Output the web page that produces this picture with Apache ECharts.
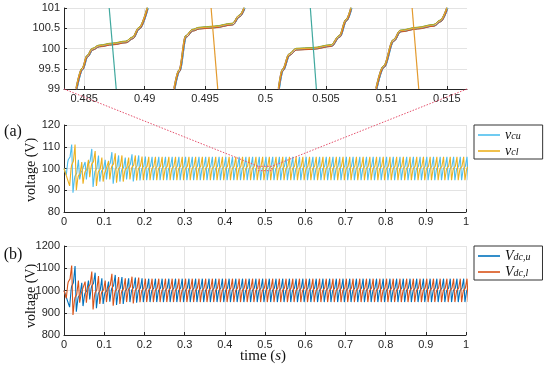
<!DOCTYPE html>
<html><head><meta charset="utf-8">
<script src="https://cdn.jsdelivr.net/npm/echarts@6/dist/echarts.min.js"></script>
<style>html,body{margin:0;padding:0;background:#fff}#c{width:550px;height:366px}</style>
</head><body><div id="c"></div>
<script>
// ---------- data ----------
// inset (zoom of 0.4833..0.5167 s, 99..101 V)
const insetXTicks = [0.485, 0.49, 0.495, 0.5, 0.505, 0.51, 0.515];
const insetXRange = [0.48333, 0.51667];
const insetYRange = [99, 101];
const insetRise1 = [[0.48436,99],[0.48486,99.5],[0.48527,99.81],[0.48569,99.98],[0.48624,100.06],[0.48735,100.11],[0.48846,100.16],[0.48901,100.26],[0.48956,100.5],[0.49025,101]];
const insetRise2 = [[0.49246,99],[0.49287,99.45],[0.49343,100.3],[0.49398,100.45],[0.49453,100.5],[0.49578,100.53],[0.49727,100.6],[0.49785,100.8],[0.49826,101]];
const insetRise3 = [[0.5011,99],[0.50143,99.47],[0.50199,99.85],[0.50254,99.98],[0.50392,100],[0.50544,100.07],[0.50613,100.3],[0.50669,100.7],[0.5071,101]];
const insetRise4 = [[0.50917,99],[0.50978,99.55],[0.51061,100.2],[0.51117,100.43],[0.51255,100.5],[0.51393,100.57],[0.51448,100.68],[0.51504,101]];
const insetFallTeal = [[[0.48707,101],[0.48765,99]], [[0.50371,101],[0.50421,99]]];
const insetFallOrange = [[[0.4955,101],[0.49605,99]], [[0.51213,101],[0.51268,99]]];

// one period of the arm capacitor ripple (phase from trough, fraction trough->peak)
const cyclePhase = [0, 0.21, 0.29, 0.38, 0.46, 0.56, 0.81];
const cycleLevel = [0, 0.405, 0.5, 0.53, 0.54, 0.594, 1];
const ripplePeriod = 1 / 60;
const cycleCount = 61;

// (a) capacitor voltages: per-cycle troughs / peaks, then steady state
const vcuStart = [0, 100], vcuPhase0 = 0.34;
const vcuLo = [97, 88.9, 95, 95, 91.5, 94, 95, 93, 94, 95, 94, 94.5];
const vcuHi = [111, 104, 103, 109, 106, 104, 107.5, 106, 105, 106.5, 106, 105.5];
const vcuSteady = [94.6, 105.4];
const vclStart = [0, 100], vclPhase0 = 0.84;
const vclLo = [92, 90, 93, 96, 92, 94, 95, 93.5, 94, 95, 94.5, 94.6];
const vclHi = [111, 103, 104, 108, 105, 103.5, 107, 106, 105, 106, 105.5, 105.4];
const vclSteady = [94.6, 105.4];

// (b) arm dc voltages
const vdcuStart = [0, 1000], vdcuPhase0 = 0.84;
const vdcuLo = [925, 905, 930, 960, 920, 940, 950, 935, 940, 948, 945, 948];
const vdcuHi = [1110, 1035, 1045, 1080, 1055, 1040, 1070, 1060, 1055, 1058, 1055, 1053];
const vdcuSteady = [948, 1053];
const vdclStart = [0, 1000], vdclPhase0 = 0.34;
const vdclLo = [965, 890, 945, 945, 915, 940, 948, 932, 940, 948, 942, 947];
const vdclHi = [1112, 1045, 1040, 1085, 1065, 1045, 1075, 1060, 1055, 1062, 1058, 1053];
const vdclSteady = [948, 1053];

// ---------- styling ----------
const C = {vcu:'#4DBEEE', vcl:'#EDB120', Vdcu:'#0072BD', Vdcl:'#D95319'};
const bandColors = ['#7E2F8E','#0072BD','#77AC30','#4DBEEE','#D95319','#EDB120'];
const bandDt = [-0.00005, 0.00004, -0.00002, 0.00005, 0.00001, -0.00004];
const bandDv = [0.015, -0.015, 0.025, -0.005, -0.02, 0.01];
const axisCol = '#262626', gridCol = '#e3e3e3';
const sansFont = 'Liberation Sans, Arial, sans-serif';
const serifFont = 'Liberation Serif, DejaVu Serif, serif';

function buildWave(start, phase0, lo, hi, steady) {
  const pts = [start.slice()];
  for (let j = 0; j < cycleCount; j++) {
    const l = j < lo.length ? lo[j] : steady[0];
    const h = j < hi.length ? hi[j] : steady[1];
    for (let i = 0; i < cyclePhase.length; i++) {
      pts.push([(j + phase0 + cyclePhase[i]) * ripplePeriod, l + cycleLevel[i] * (h - l)]);
    }
  }
  return pts;
}

function axisBase(extraLabel) {
  return {
    type: 'value',
    axisLine: {show: true, onZero: false, lineStyle: {color: axisCol, width: 1}},
    axisTick: {show: true, inside: true, length: 3, lineStyle: {color: axisCol}},
    axisLabel: Object.assign({color: axisCol, fontSize: 11, fontFamily: sansFont, margin: 4}, extraLabel || {}),
    splitLine: {show: true, lineStyle: {color: gridCol, width: 1}}
  };
}

const series = [];
[insetRise1, insetRise2, insetRise3, insetRise4].forEach(curve => {
  bandColors.forEach((col, i) => {
    series.push({type: 'line', xAxisIndex: 0, yAxisIndex: 0, showSymbol: false, silent: true,
      smooth: 0.35, smoothMonotone: 'x',
      data: curve.map(p => [p[0] + bandDt[i], p[1] + bandDv[i]]),
      lineStyle: {color: col, width: 1}});
  });
});
insetFallTeal.forEach(seg => series.push({type: 'line', xAxisIndex: 0, yAxisIndex: 0, showSymbol: false, silent: true,
  data: seg, lineStyle: {color: '#3fa89e', width: 1.2}}));
insetFallOrange.forEach(seg => series.push({type: 'line', xAxisIndex: 0, yAxisIndex: 0, showSymbol: false, silent: true,
  data: seg, lineStyle: {color: '#e39a2d', width: 1.2}}));

function mainSeries(name, ax, data) {
  return {name, type: 'line', xAxisIndex: ax, yAxisIndex: ax, showSymbol: false, symbol: 'none',
    data, lineStyle: {color: C[name], width: 1.1}, itemStyle: {color: C[name]}};
}
series.push(mainSeries('vcu', 1, buildWave(vcuStart, vcuPhase0, vcuLo, vcuHi, vcuSteady)));
series.push(mainSeries('vcl', 1, buildWave(vclStart, vclPhase0, vclLo, vclHi, vclSteady)));
series.push(mainSeries('Vdcu', 2, buildWave(vdcuStart, vdcuPhase0, vdcuLo, vdcuHi, vdcuSteady)));
series.push(mainSeries('Vdcl', 2, buildWave(vdclStart, vdclPhase0, vdclLo, vdclHi, vdclSteady)));

const legendLabels = {
  vcu: '{m|v}{s|cu}', vcl: '{m|v}{s|cl}', Vdcu: '{m|V}{s|dc,u}', Vdcl: '{m|V}{s|dc,l}'
};
const legendRich = {
  m: {fontFamily: serifFont, fontStyle: 'italic', fontSize: 14, lineHeight: 12, verticalAlign: 'middle', color: '#111'},
  s: {fontFamily: serifFont, fontStyle: 'italic', fontSize: 10, lineHeight: 12, verticalAlign: 'bottom', color: '#111', padding: [5, 0, 0, 0]}
};
function legendCfg(names, top, pad) {
  return {data: names, left: 474, top, orient: 'vertical', itemGap: 0, itemWidth: 22, itemHeight: 1.6,
    icon: 'rect', padding: pad, backgroundColor: '#fff', borderColor: '#333', borderWidth: 1, borderRadius: 0,
    selectedMode: false, formatter: n => legendLabels[n], textStyle: {rich: legendRich, padding: [0, 0, 0, 0]}};
}

const chart = echarts.init(document.getElementById('c'), null, {renderer: 'canvas', width: 550, height: 366});
const xMain = (gi) => Object.assign(axisBase({formatter: v => String(+v.toFixed(1))}), {gridIndex: gi, min: 0, max: 1, interval: 0.1});
const insetX = axisBase({formatter: v => String(+v.toFixed(3)), customValues: insetXTicks});
insetX.axisTick.customValues = insetXTicks;
Object.assign(insetX, {gridIndex: 0, min: insetXRange[0], max: insetXRange[1]});

chart.setOption({
  animation: false,
  backgroundColor: '#fff',
  grid: [
    {left: 64, top: 8, width: 403, height: 81, outerBoundsMode: 'none'},
    {left: 64, top: 125, width: 402, height: 87, outerBoundsMode: 'none'},
    {left: 64, top: 246, width: 402, height: 89, outerBoundsMode: 'none'}
  ],
  xAxis: [insetX, xMain(1), xMain(2)],
  yAxis: [
    Object.assign(axisBase({formatter: v => String(v)}), {gridIndex: 0, min: insetYRange[0], max: insetYRange[1], interval: 0.5}),
    Object.assign(axisBase({formatter: v => String(v)}), {gridIndex: 1, min: 80, max: 120, interval: 10}),
    Object.assign(axisBase({formatter: v => String(v)}), {gridIndex: 2, min: 800, max: 1200, interval: 100})
  ],
  legend: [legendCfg(['vcu', 'vcl'], 125, [1, 22, 1, 4]), legendCfg(['Vdcu', 'Vdcl'], 246, [1, 12, 1, 4])],
  series
});

// zoom annotation (dotted) + texts
const toPx = (ai, p) => chart.convertToPixel({xAxisIndex: ai, yAxisIndex: ai}, p);
const iBL = toPx(0, [insetXRange[0], insetYRange[0]]);
const iBR = toPx(0, [insetXRange[1], insetYRange[0]]);
const bTL = toPx(1, [insetXRange[0], insetYRange[1]]);
const bTR = toPx(1, [insetXRange[1], insetYRange[1]]);
const bBR = toPx(1, [insetXRange[1], insetYRange[0]]);
const dotted = {stroke: '#e5506c', lineWidth: 1, lineDash: [1.5, 1.5], fill: null};
chart.setOption({
  graphic: [
    {type: 'line', z: 100, shape: {x1: iBL[0], y1: iBL[1], x2: bTL[0], y2: bTL[1]}, style: dotted},
    {type: 'line', z: 100, shape: {x1: iBR[0], y1: iBR[1], x2: bTR[0], y2: bTR[1]}, style: dotted},
    {type: 'rect', z: 100, shape: {x: bTL[0], y: bTL[1], width: bBR[0] - bTL[0], height: bBR[1] - bTL[1]}, style: dotted},
    {type: 'text', z: 100, x: 13, y: 132, style: {text: '(a)', fontFamily: serifFont, fontSize: 16, fill: '#111', align: 'center', verticalAlign: 'middle'}},
    {type: 'text', z: 100, x: 13, y: 255, style: {text: '(b)', fontFamily: serifFont, fontSize: 16, fill: '#111', align: 'center', verticalAlign: 'middle'}},
    {type: 'text', z: 100, x: 31, y: 170, rotation: Math.PI / 2, style: {text: 'voltage (V)', fontFamily: serifFont, fontSize: 14, fill: '#111', align: 'center', verticalAlign: 'middle'}},
    {type: 'text', z: 100, x: 31, y: 296, rotation: Math.PI / 2, style: {text: 'voltage (V)', fontFamily: serifFont, fontSize: 14, fill: '#111', align: 'center', verticalAlign: 'middle'}},
    {type: 'text', z: 100, x: 263, y: 356, style: {text: '{n|time (}{i|s}{n|)}', align: 'center', verticalAlign: 'middle',
      rich: {n: {fontFamily: serifFont, fontSize: 15, fill: '#111'}, i: {fontFamily: serifFont, fontStyle: 'italic', fontSize: 15, fill: '#111'}}}}
  ]
});
</script>
</body></html>
